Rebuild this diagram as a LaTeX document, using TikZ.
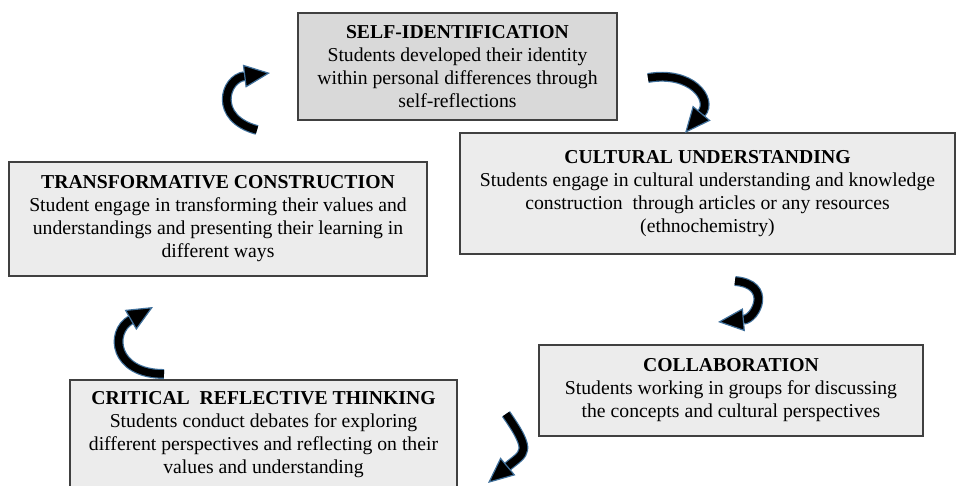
\documentclass[tikz,border=0pt]{standalone}
\usepackage{fontspec}
\setmainfont{Liberation Serif}
\usepackage{tikz}
\usetikzlibrary{arrows.meta,positioning}
\definecolor{boxline}{RGB}{64,64,64}
\definecolor{arrowblue}{RGB}{65,113,156}

\begin{document}
\begin{tikzpicture}[x=1pt,y=1pt]
		\tikzset{box style/.style={draw=boxline,
				line width=1.1pt,
				align=center,
				inner sep=0pt,
				font=\fontsize{19.7}{23}\selectfont,
				fill=gray!15},
			cycle arrow/.style={draw=arrowblue, line width=1.2pt,
				double=black, double distance=7.5pt,
				-{Triangle[length=26pt,width=23pt,fill=black]}}}
		\useasboundingbox (0,0) rectangle (956,486);
		
		% Draw the boxes
		\node[box style, fill=gray!30, minimum width=319, minimum height=107] at (457.5,419.5) (self) {\textbf{SELF-IDENTIFICATION}\\Students developed their identity\\within personal differences through\\self-reflections};
		\node[box style, minimum width=495, minimum height=121] at (707.5,292.5) (cult) {\textbf{CULTURAL UNDERSTANDING}\\Students engage in cultural understanding and knowledge\\construction\ \ through articles or any resources\\(ethnochemistry)};
		\node[box style, minimum width=384, minimum height=91] at (731,95.5) (collab) {\textbf{COLLABORATION}\\Students working in groups for discussing\\the concepts and cultural perspectives};
		\node[box style, minimum width=387, minimum height=110] at (263.5,51) (crit) {\textbf{CRITICAL\ \ REFLECTIVE THINKING}\\Students conduct debates for exploring\\different perspectives and reflecting on their\\values and understanding};
		\node[box style, minimum width=418, minimum height=114] at (218,267) (trans) {\textbf{TRANSFORMATIVE CONSTRUCTION}\\Student engage in transforming their values and\\understandings and presenting their learning in\\different ways};
		
		% Arrow ends
		\coordinate (a1) at (257,356);
		\coordinate (b1) at (270,413);
		\coordinate (a2) at (648,408);
		\coordinate (b2) at (685,353);
		\coordinate (a3) at (735,205);
		\coordinate (b3) at (718,164);
		\coordinate (a4) at (506,72);
		\coordinate (b4) at (488,3);
		\coordinate (a5) at (164,112);
		\coordinate (b5) at (153,179);
		
		% Connect the boxes with arrows
		\draw
		(a1) edge[cycle arrow, out=165, in=187, looseness=2] (b1)
		(a2) edge[cycle arrow, out=10, in=50, looseness=1.7] (b2)
		(a3) edge[cycle arrow, out=-5, in=5, looseness=2.2] (b3)
		(a4) edge[cycle arrow, out=-55, in=40, looseness=1.7] (b4)
		(a5) edge[cycle arrow, out=180, in=210, looseness=1.9] (b5);
		
\end{tikzpicture}
\end{document}
